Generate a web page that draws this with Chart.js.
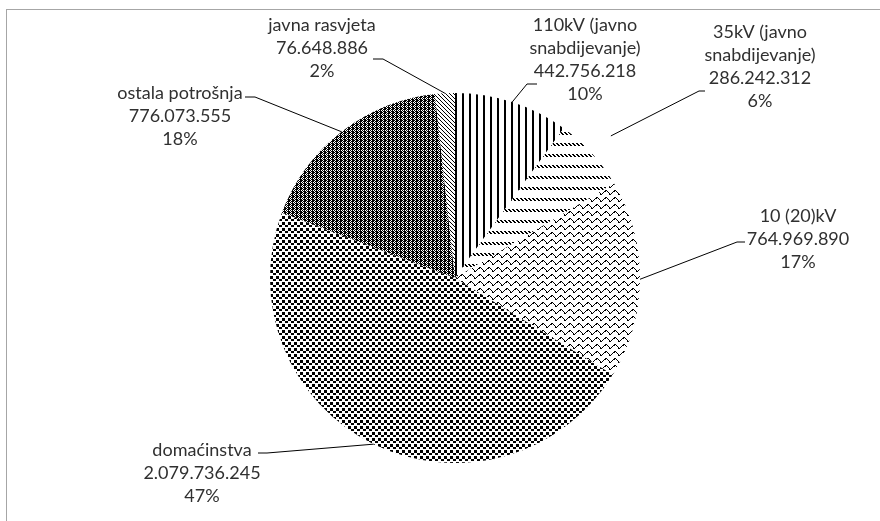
<!DOCTYPE html>
<html>
<head>
<meta charset="utf-8">
<script src="https://cdn.jsdelivr.net/npm/chart.js@4.4.1/dist/chart.umd.min.js"></script>
<style>
  html, body { margin: 0; padding: 0; background: #fff; overflow: hidden; }
  #frame { position: absolute; left: 6px; top: 9px; width: 900px; height: 600px; border: 1px solid #a6a6a6; }
  #wrap { position: absolute; left: 0; top: 0; width: 880px; height: 521px; }
</style>
</head>
<body>
<div id="frame"></div>
<div id="wrap"><canvas id="pie" width="880" height="521"></canvas></div>
<script>
// kategorije i vrijednosti (kWh)
const categories = ['110kV (javno snabdijevanje)', '35kV (javno snabdijevanje)', '10 (20)kV', 'domaćinstva', 'ostala potrošnja', 'javna rasvjeta'];
const labelLines = [
  ['110kV (javno', 'snabdijevanje)'],
  ['35kV (javno', 'snabdijevanje)'],
  ['10 (20)kV'],
  ['domaćinstva'],
  ['ostala potrošnja'],
  ['javna rasvjeta']
];
const values = [442756218, 286242312, 764969890, 2079736245, 776073555, 76648886];
const valueLabels = ['442.756.218', '286.242.312', '764.969.890', '2.079.736.245', '776.073.555', '76.648.886'];
const percentLabels = ['10%', '6%', '17%', '47%', '18%', '2%'];

// raspored oznaka (centar teksta, prvi red) i kraj linije do oznake
const labelLayout = [
  { x: 585, y: 25, tail: [537, 84, 527, 84], r: 1.0 },
  { x: 760, y: 32, tail: [705, 91, 699, 91], r: 1.14 },
  { x: 798, y: 216, tail: [745, 242, 737, 242], r: 1.0 },
  { x: 202, y: 450, tail: [258, 453, 267, 453], r: 1.0 },
  { x: 180, y: 93, tail: [245, 97, 255, 97], r: 1.0 },
  { x: 322, y: 25, tail: [373, 59, 383, 59], r: 1.0 }
];

function makePattern(w, h, draw) {
  const c = document.createElement('canvas');
  c.width = w; c.height = h;
  const g = c.getContext('2d');
  g.fillStyle = '#fff'; g.fillRect(0, 0, w, h);
  g.fillStyle = '#000';
  draw(g);
  return document.getElementById('pie').getContext('2d').createPattern(c, 'repeat');
}

const patterns = [
  // vertikalne linije
  makePattern(7, 7, g => { g.fillRect(0, 0, 2, 7); }),
  // cik-cak redovi
  makePattern(4, 11, g => {
    for (let y = 0; y < 3; y++)
      for (let x = 0; x < 4; x++)
        if (((x - y) % 4 + 4) % 4 < 2) g.fillRect(x, y, 1, 1);
  }),
  // valovi
  makePattern(9, 7, g => {
    const ys = [3, 2, 1, 1, 2, 3, 4, 5, 4];
    ys.forEach((y, x) => g.fillRect(x, y, 1, 1));
    g.fillRect(2, 2, 1, 1); g.fillRect(6, 5, 1, 1);
  }),
  // veće tačke
  makePattern(6, 6, g => { g.fillRect(0, 0, 3, 3); g.fillRect(3, 3, 3, 2); }),
  // gusta mreža
  makePattern(4, 4, g => {
    g.fillRect(0, 0, 1, 4);
    g.fillRect(2, 0, 1, 1); g.fillRect(1, 1, 1, 1); g.fillRect(3, 1, 1, 1);
    g.fillRect(2, 2, 1, 1); g.fillRect(1, 3, 1, 1); g.fillRect(3, 3, 1, 1);
    g.fillRect(1, 0, 1, 1);
  }),
  // dijagonale
  makePattern(4, 4, g => { for (let i = 0; i < 4; i++) g.fillRect(i, i, 1, 1); })
];

const labelPlugin = {
  id: 'outsideLabels',
  afterDatasetsDraw(chart) {
    const ctx = chart.ctx;
    const meta = chart.getDatasetMeta(0);
    ctx.save();
    meta.data.forEach((arc, i) => {
      const lay = labelLayout[i];
      const mid = (arc.startAngle + arc.endAngle) / 2;
      const rr = arc.outerRadius * lay.r;
      const ex = arc.x + Math.cos(mid) * rr;
      const ey = arc.y + Math.sin(mid) * rr;
      ctx.strokeStyle = '#000';
      ctx.lineWidth = 1;
      ctx.beginPath();
      ctx.moveTo(lay.tail[0], lay.tail[1]);
      ctx.lineTo(lay.tail[2], lay.tail[3]);
      ctx.lineTo(ex, ey);
      ctx.stroke();

      const lines = labelLines[i].concat([valueLabels[i], percentLabels[i]]);
      ctx.fillStyle = '#303030';
      ctx.font = '18px Lato';
      ctx.textAlign = 'center';
      ctx.textBaseline = 'middle';
      lines.forEach((t, k) => ctx.fillText(t, lay.x, lay.y + k * 23));
    });
    ctx.restore();
  }
};

new Chart(document.getElementById('pie'), {
  type: 'pie',
  data: {
    labels: categories,
    datasets: [{
      data: values,
      backgroundColor: patterns,
      borderWidth: 0
    }]
  },
  options: {
    responsive: false,
    animation: false,
    layout: { padding: { top: 93, bottom: 58, left: 30, right: 0 } },
    plugins: {
      legend: { display: false },
      tooltip: { enabled: false }
    }
  },
  plugins: [labelPlugin]
});
</script>
</body>
</html>
